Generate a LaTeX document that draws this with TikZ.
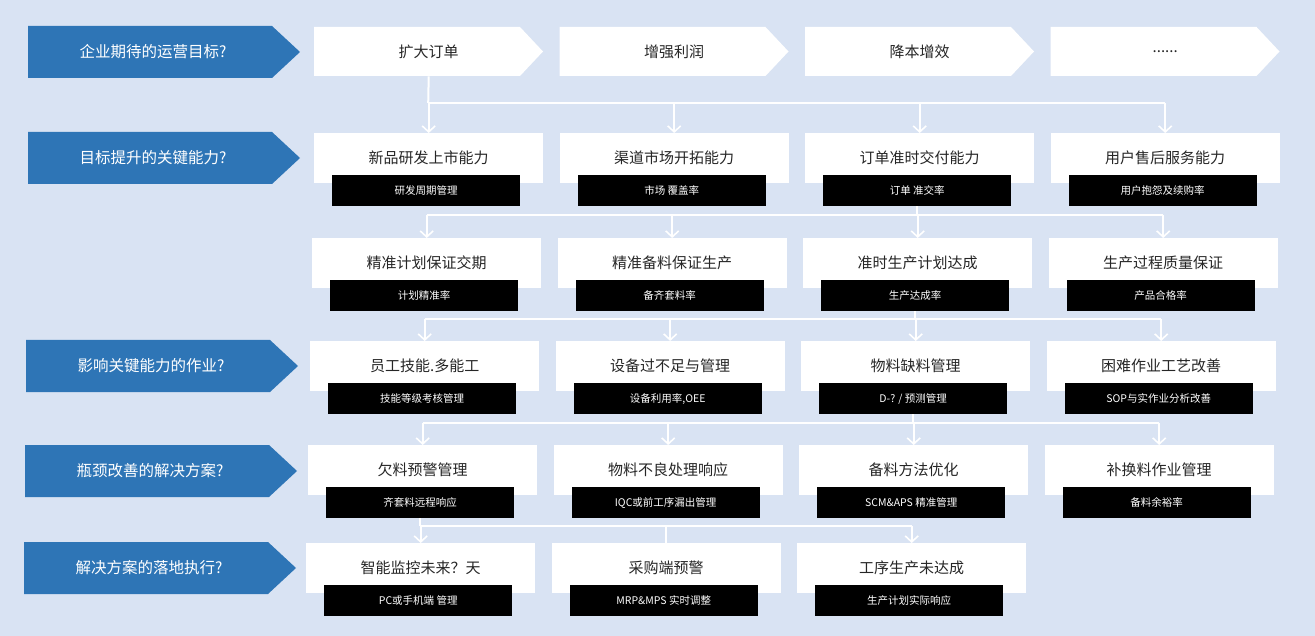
\documentclass[tikz,border=0pt]{standalone}
\usepackage{fontspec}
\setmainfont{Noto Sans CJK SC}
\usetikzlibrary{arrows.meta}
\definecolor{bg}{HTML}{D9E3F3}
\definecolor{lblue}{HTML}{2E75B6}
\begin{document}
\begin{tikzpicture}[x=1pt,y=-1pt,
  wbox/.style={fill=white,minimum width=229pt,minimum height=50pt,inner sep=0pt,anchor=north west,font=\fontsize{15}{17}\selectfont,text=black!85},
  bbox/.style={fill=black,minimum width=188pt,minimum height=31pt,inner sep=0pt,anchor=north west,font=\fontsize{10.5}{12}\selectfont,text=white},
  lbl/.style={text=white,font=\fontsize{15.5}{18}\selectfont,inner sep=0pt},
  conn/.style={draw=white,line width=2pt},
  arr/.style={conn,-{Straight Barb[length=6pt,width=13pt,line width=1.6pt]}}]
\fill[bg] (0,0) rectangle (1315,636);
\useasboundingbox (0,0) rectangle (1315,636);
% row labels
\foreach \i/\x/\y/\t in {1/28/26/{企业期待的运营目标?},2/28/132/{目标提升的关键能力?},4/26/340/{影响关键能力的作业?},5/25/445/{瓶颈改善的解决方案?},6/24/542/{解决方案的落地执行?}}{
  \fill[lblue] (\x,\y) -- (\x+244,\y) -- (\x+272,\y+26) -- (\x+244,\y+52) -- (\x,\y+52) -- cycle;
  \node[lbl] (lab\i) at (\x+125,\y+26) {\t};
}
% row 1
\foreach \c/\t in {0/扩大订单,1/增强利润,2/降本增效,3/{......}}{
  \pgfmathsetmacro\X{314+245.5*\c}
  \fill[white] (\X,27) -- (\X+206,27) -- (\X+229,51.5) -- (\X+206,76) -- (\X,76) -- cycle;
  \node[wbox,fill=none,minimum height=49pt] (w1-\c) at (\X,27) {\t};
}
% rows 2-6
\foreach \r/\L/\T/\items in {
 2/314/133/{0/新品研发上市能力/研发周期管理,1/渠道市场开拓能力/市场 覆盖率,2/订单准时交付能力/订单 准交率,3/用户售后服务能力/用户抱怨及续购率},
 3/312/238/{0/精准计划保证交期/计划精准率,1/精准备料保证生产/备齐套料率,2/准时生产计划达成/生产达成率,3/生产过程质量保证/产品合格率},
 4/310/341/{0/员工技能.多能工/技能等级考核管理,1/设备过不足与管理/{设备利用率,OEE},2/物料缺料管理/{D-? / 预测管理},3/困难作业工艺改善/SOP与实作业分析改善},
 5/308/445/{0/欠料预警管理/齐套料远程响应,1/物料不良处理响应/IQC或前工序漏出管理,2/备料方法优化/SCM\&APS 精准管理,3/补换料作业管理/备料余裕率},
 6/306/543/{0/智能监控未来？天/PC或手机端 管理,1/采购端预警/MRP\&MPS 实时调整,2/工序生产未达成/生产计划实际响应}}{
  \foreach \c/\t/\s in \items {
    \pgfmathsetmacro\X{\L+245.5*\c}
    \node[wbox] (w\r-\c) at (\X,\T) {\raisebox{0pt}{\t}};
    \node[bbox] (b\r-\c) at (\X+18,\T+42) {\s};
  }
}
% connectors
\coordinate (s1) at ([xshift=-0.5pt]w1-0.south |- 0,103);
\draw[conn] ([xshift=0pt]w1-0.south) -- (s1);
\draw[conn] (s1) -- ([xshift=0pt]w1-3.south |- 0,103);
\foreach \c in {0,1,2,3}{\draw[arr] (w2-\c.north |- 0,103) -- (w2-\c.north);}
% T2
\coordinate (s2) at (b2-2.south |- 0,215);
\draw[conn] (b2-2.south) -- (s2);
\draw[conn] (w3-0.north |- 0,215) -- (w3-3.north |- 0,215);
\foreach \c in {0,1,2,3}{\draw[arr] (w3-\c.north |- 0,215) -- (w3-\c.north);}
% T3
\coordinate (s3) at (b3-2.south |- 0,319);
\draw[conn] (b3-2.south) -- (s3);
\draw[conn] (w4-0.north |- 0,319) -- (w4-3.north |- 0,319);
\foreach \c in {0,1,2,3}{\draw[arr] (w4-\c.north |- 0,319) -- (w4-\c.north);}
% T4
\coordinate (s4) at (b4-2.south |- 0,423);
\draw[conn] (b4-2.south) -- (s4);
\draw[conn] (w5-0.north |- 0,423) -- (w5-3.north |- 0,423);
\foreach \c in {0,1,2,3}{\draw[arr] (w5-\c.north |- 0,423) -- (w5-\c.north);}
% T5
\coordinate (s5) at (b5-0.south |- 0,526);
\draw[conn] (b5-0.south) -- (s5);
\draw[conn] (w6-0.north |- 0,526) -- (w6-2.north |- 0,526);
\draw[arr] (w6-0.north |- 0,526) -- (w6-0.north);
\draw[conn] (w6-1.north |- 0,526) -- (w6-1.north);
\draw[arr] (w6-2.north |- 0,526) -- (w6-2.north);
\end{tikzpicture}
\end{document}
